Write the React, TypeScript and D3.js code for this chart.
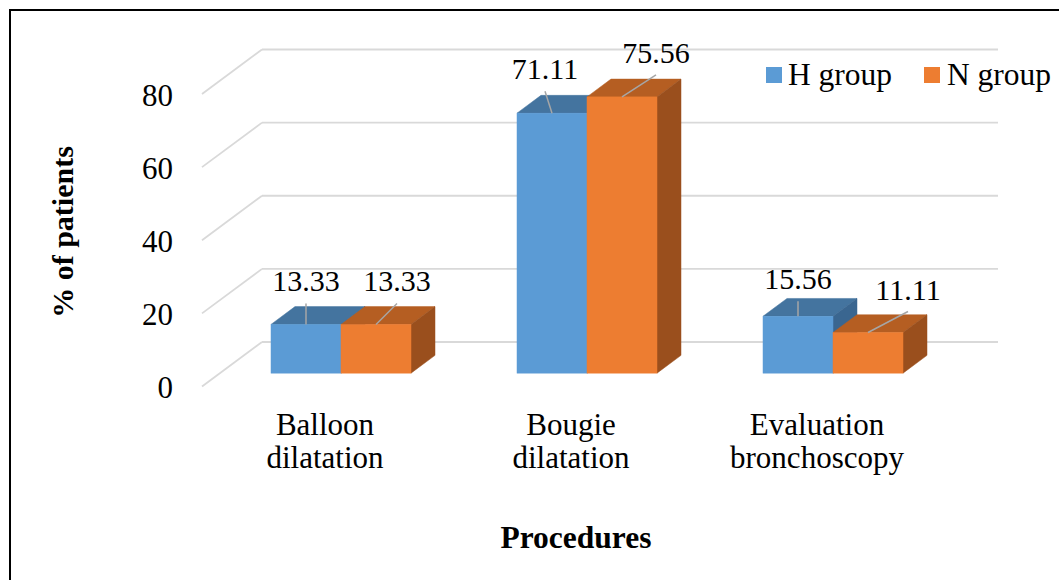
import React from "react";
import * as d3 from "d3";

const categories = ["Balloon dilatation", "Bougie dilatation", "Evaluation bronchoscopy"];
const categoryLines = [["Balloon", "dilatation"], ["Bougie", "dilatation"], ["Evaluation", "bronchoscopy"]];
const seriesNames = ["H group", "N group"];
const hValues = [13.33, 71.11, 15.56];
const nValues = [13.33, 75.56, 11.11];
const yTicks = [0, 20, 40, 60, 80];

// layout / style (not data)
const W = 1059, H = 580;
const FONT = "'Liberation Serif', 'Times New Roman', serif";
const colors = [
  { front: "#5B9BD5", top: "#44749F", side: "#3A6690" },
  { front: "#ED7D31", top: "#B55E22", side: "#9A4F1D" },
];
// label offsets relative to bar's top-front centre: [dx, dy]
const labelOffsets = [
  [[0, -33], [21, -33]],
  [[-7, -34], [34, -34]],
  [[0, -27], [40, -33]],
];

export default function App() {
  const depthX = 60, depthY = 44.5;
  const yBack = d3.scaleLinear().domain([0, 80]).range([342, 49.5]);
  const yFront = (v: number) => yBack(v) + depthY;
  const xBand = d3.scaleBand<string>().domain(categories).range([200, 938]);
  const barW = 70;
  const fFront = 0.3, fDepth = 0.4;
  const series = [hValues, nValues];

  const pt = (x: number, y: number) => `${x},${y}`;

  const bars: JSX.Element[] = [];
  const labels: JSX.Element[] = [];
  categories.forEach((c, ci) => {
    const cx = xBand(c)! + xBand.bandwidth() / 2 + depthX * fFront;
    series.forEach((vals, si) => {
      const v = vals[ci];
      const x0 = cx - barW + si * barW;
      const x1 = x0 + barW;
      const yb = yFront(0) - depthY * fFront;
      const yt = yFront(v) - depthY * fFront;
      const dx = depthX * fDepth, dy = depthY * fDepth;
      const col = colors[si];
      bars.push(
        <g key={`b${ci}-${si}`}>
          <polygon points={[pt(x0, yt), pt(x0 + dx, yt - dy), pt(x1 + dx, yt - dy), pt(x1, yt)].join(" ")} fill={col.top} stroke={col.top} strokeWidth={0.5} />
          <polygon points={[pt(x1, yt), pt(x1 + dx, yt - dy), pt(x1 + dx, yb - dy), pt(x1, yb)].join(" ")} fill={col.side} stroke={col.side} strokeWidth={0.5} />
          <rect x={x0} y={yt} width={barW} height={yb - yt} fill={col.front} stroke={col.front} strokeWidth={0.5} />
        </g>
      );
      const bx = (x0 + x1) / 2;
      const [ox, oy] = labelOffsets[ci][si];
      const lx = bx + ox, ly = yt + oy;
      labels.push(
        <g key={`l${ci}-${si}`}>
          <line x1={bx} y1={yt} x2={lx} y2={ly + 12} stroke="#A6A6A6" strokeWidth={1.5} />
          <text x={lx} y={ly} textAnchor="middle" fontSize={30} fontFamily={FONT} fill="#000">{v.toFixed(2)}</text>
        </g>
      );
    });
  });

  return (
    <svg width={W} height={H} style={{ position: "absolute", left: 0, top: 0, background: "#fff" }}>
      <rect x={0} y={0} width={W} height={H} fill="#fff" />
      <rect x={10} y={10} width={1080} height={620} fill="none" stroke="#000" strokeWidth={2} />
      {yTicks.map((t) => (
        <g key={t}>
          <line x1={262} x2={998} y1={yBack(t)} y2={yBack(t)} stroke="#D9D9D9" strokeWidth={1.8} />
          <line x1={262} x2={262 - depthX} y1={yBack(t)} y2={yBack(t) + depthY} stroke="#D9D9D9" strokeWidth={1.8} />
          <text x={173} y={yFront(t) + 1} textAnchor="end" dominantBaseline="central" fontSize={31} fontFamily={FONT}>{t}</text>
        </g>
      ))}
      {bars}
      {labels}
      {categories.map((c, ci) => (
        <text key={c} x={xBand(c)! + xBand.bandwidth() / 2 + 2} textAnchor="middle" fontSize={31} fontFamily={FONT}>
          <tspan x={xBand(c)! + xBand.bandwidth() / 2 + 2} y={435}>{categoryLines[ci][0]}</tspan>
          <tspan x={xBand(c)! + xBand.bandwidth() / 2 + 2} y={468}>{categoryLines[ci][1]}</tspan>
        </text>
      ))}
      <text x={576} y={548} textAnchor="middle" fontSize={31.5} fontWeight="bold" fontFamily={FONT}>Procedures</text>
      <text transform="translate(73,232) rotate(-90)" textAnchor="middle" fontSize={30} fontWeight="bold" fontFamily={FONT}>% of patients</text>
      {seriesNames.map((s, i) => (
        <g key={s}>
          <rect x={i === 0 ? 766 : 924} y={67} width={16} height={16} fill={colors[i].front} />
          <text x={i === 0 ? 788 : 947} y={85} fontSize={31.5} fontFamily={FONT}>{s}</text>
        </g>
      ))}
    </svg>
  );
}
